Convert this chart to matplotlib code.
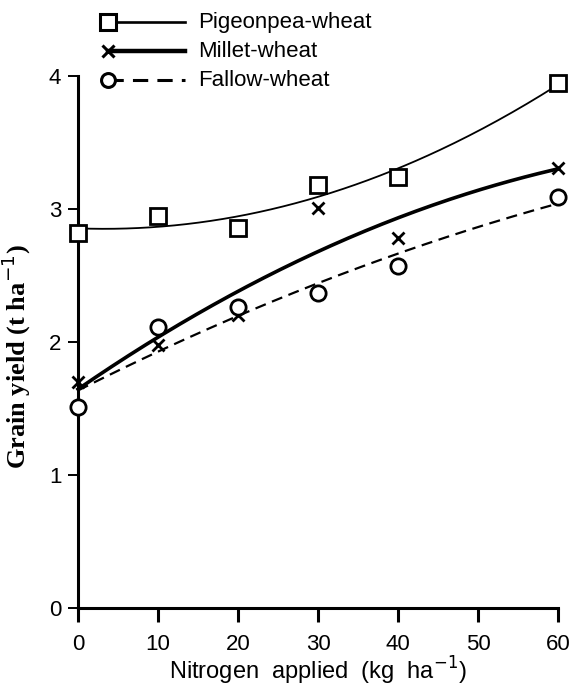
import numpy as np
import matplotlib
matplotlib.use("Agg")
import matplotlib.pyplot as plt
from matplotlib.lines import Line2D

plt.rcParams['font.family'] = ['Liberation Sans', 'DejaVu Sans']

# Grain yield (t/ha) at each nitrogen rate (kg/ha)
nitrogen = [0, 10, 20, 30, 40, 60]
pigeonpea_wheat = [2.82, 2.95, 2.86, 3.18, 3.24, 3.95]
millet_wheat = [1.70, 1.98, 2.20, 3.01, 2.78, 3.31]
fallow_wheat = [1.51, 2.11, 2.26, 2.37, 2.57, 3.09]

series = [
    ("Pigeonpea-wheat", pigeonpea_wheat, 's', '-', 1.3, 12),
    ("Millet-wheat", millet_wheat, 'x', '-', 2.6, 9),
    ("Fallow-wheat", fallow_wheat, 'o', (0, (5, 3)), 1.6, 11),
]

fig = plt.figure(figsize=(5.75, 6.9), dpi=100)
ax = fig.add_axes([0.1357, 0.1188, 0.835, 0.771])

xs = np.linspace(0, 60, 200)
for label, vals, marker, ls, lw, ms in series:
    # quadratic response curve through the measured points
    coef = np.polyfit(nitrogen, vals, 2)
    ax.plot(xs, np.polyval(coef, xs), color='black', linestyle=ls,
            linewidth=lw, clip_on=False)
    ax.plot(nitrogen, vals, linestyle='none', marker=marker, markersize=ms,
            markerfacecolor='white', markeredgecolor='black',
            markeredgewidth=2.0, clip_on=False, zorder=3)

ax.set_xlim(0, 60)
ax.set_ylim(0, 4)
ax.set_xticks([0, 10, 20, 30, 40, 50, 60])
ax.set_yticks([0, 1, 2, 3, 4])
ax.spines['top'].set_visible(False)
ax.spines['right'].set_visible(False)
ax.spines['left'].set_linewidth(2.2)
ax.spines['bottom'].set_linewidth(2.2)
ax.tick_params(axis='x', direction='out', length=10, width=2.2,
               labelsize=16, pad=9)
ax.tick_params(axis='y', direction='out', length=7, width=1.4,
               labelsize=16, pad=5)

ax.set_xlabel('Nitrogen  applied  (kg  ha$^{-1}$)', fontsize=17)
ax.xaxis.label.set_verticalalignment('bottom')
ax.xaxis.set_label_coords(0.5, -0.148)
ax.set_ylabel('Grain yield (t ha$^{-1}$)', fontsize=19,
              family='Liberation Serif', fontweight='bold')
ax.yaxis.set_label_coords(-0.094, 0.472)

# legend drawn in figure coordinates, marker at the left end of each sample line
rows = [0.968, 0.926, 0.884]
for (label, vals, marker, ls, lw, ms), yy in zip(series, rows):
    fig.add_artist(Line2D([0.188, 0.322], [yy, yy], transform=fig.transFigure,
                          color='black', linestyle=ls, linewidth=lw + 0.6,
                          marker=marker, markevery=[0], markersize=ms - 1,
                          markerfacecolor='white', markeredgecolor='black',
                          markeredgewidth=2.2))
    fig.text(0.344, yy, label, fontsize=16, va='center', ha='left')

fig.savefig('out.png', dpi=100)
